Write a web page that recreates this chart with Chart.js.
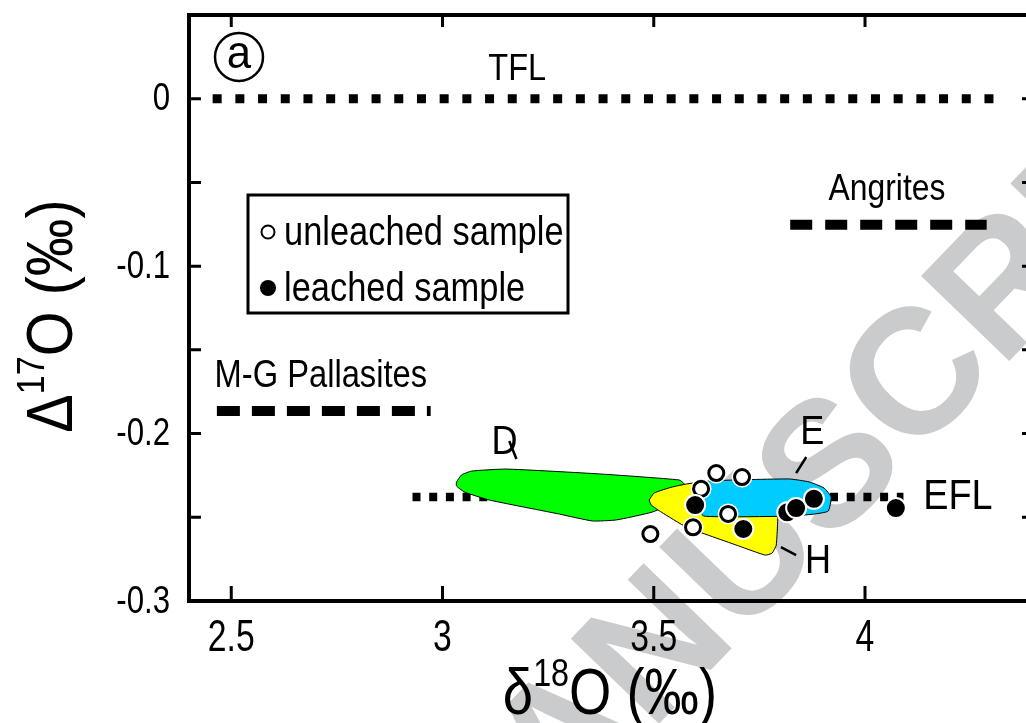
<!DOCTYPE html>
<html>
<head>
<meta charset="utf-8">
<script src="https://cdn.jsdelivr.net/npm/chart.js@4.4.0/dist/chart.umd.min.js"></script>
<style>
  html, body { margin: 0; padding: 0; background: #fff; overflow: hidden; }
</style>
</head>
<body>
<canvas id="myChart" width="1046" height="723"></canvas>
<script>
// axis ticks
var xTicks = [2.5, 3, 3.5, 4];
var xTickLabels = ['2.5', '3', '3.5', '4'];
var yTicks = [0, -0.05, -0.1, -0.15, -0.2, -0.25, -0.3];
var yTickLabels = ['0', '', '-0.1', '', '-0.2', '', '-0.3'];

// samples
var unleachedX = [3.492, 3.648, 3.709, 3.612, 3.676, 3.593];
var unleachedY = [-0.260, -0.2236, -0.226, -0.233, -0.248, -0.256];
var leachedX = [3.598, 3.712, 3.816, 3.837, 3.879, 4.073];
var leachedY = [-0.2427, -0.257, -0.247, -0.2445, -0.239, -0.2445];

// fields (outlines)
var fieldDX = [3.033, 3.045, 3.069, 3.151, 3.371, 3.560, 3.572, 3.560, 3.496, 3.411, 3.355, 3.277, 3.111, 3.052, 3.033, 3.033];
var fieldDY = [-0.229, -0.2247, -0.2224, -0.2212, -0.2241, -0.2277, -0.2301, -0.2397, -0.2469, -0.2516, -0.2522, -0.2481, -0.2397, -0.2349, -0.2313, -0.229];
var fieldHX = [3.489, 3.501, 3.544, 3.596, 3.749, 3.792, 3.790, 3.780, 3.764, 3.702, 3.577, 3.518, 3.494, 3.489];
var fieldHY = [-0.2397, -0.2355, -0.2319, -0.2295, -0.2337, -0.2427, -0.2666, -0.2714, -0.2726, -0.2672, -0.2558, -0.2469, -0.2427, -0.2397];
var fieldEX = [3.600, 3.631, 3.820, 3.868, 3.903, 3.920, 3.913, 3.879, 3.820, 3.619, 3.600, 3.600];
var fieldEY = [-0.2307, -0.2283, -0.2271, -0.2289, -0.2325, -0.2379, -0.2463, -0.2481, -0.2493, -0.2493, -0.2427, -0.2307];

// reference lines
var tflX = [2.456, 4.312], tflY = [0, 0];
var eflX = [2.929, 4.091], eflY = [-0.2379, -0.2379];
var angritesX = [3.823, 4.288], angritesY = [-0.0753, -0.0753];
var pallasitesX = [2.466, 2.972], pallasitesY = [-0.1865, -0.1865];

var FONT = '"Liberation Sans", Arial, sans-serif';
var ctx = document.getElementById('myChart').getContext('2d');

function pts(xs, ys) {
  return xs.map(function (x, i) { return { x: x, y: ys[i] }; });
}

function refLine(label, xs, ys, width, dash, order) {
  return {
    label: label, data: pts(xs, ys), showLine: true, fill: false,
    borderColor: '#000', borderWidth: width, borderDash: dash, borderCapStyle: 'butt',
    pointRadius: 0, order: order
  };
}

function field(label, xs, ys, color, order) {
  return {
    label: label, data: pts(xs, ys), showLine: true, fill: 'shape',
    backgroundColor: color, borderColor: '#000', borderWidth: 1,
    pointRadius: 0, tension: 0.15, order: order
  };
}

// condensed text (the original uses a narrow Helvetica)
function narrowText(c, txt, x, y, size, align, sx) {
  c.save();
  c.font = size + 'px ' + FONT;
  var w = c.measureText(txt).width * sx;
  var left = align === 'center' ? x - w / 2 : (align === 'right' ? x - w : x);
  c.translate(left, y);
  c.scale(sx, 1);
  c.textAlign = 'left';
  c.fillText(txt, 0, 0);
  c.restore();
  return w;
}

var decor = {
  id: 'decor',
  beforeDraw: function (chart) {
    // journal watermark
    var c = chart.ctx;
    c.save();
    c.fillStyle = '#cacbcc';
    c.font = 'bold 178px ' + FONT;
    var pre = c.measureText('ACCEPTED MA').width + c.measureText('N').width / 2;
    var ang = -46 * Math.PI / 180;
    c.translate(660 - pre * Math.cos(ang), 652 - pre * Math.sin(ang));
    c.rotate(ang);
    c.textBaseline = 'middle';
    c.fillText('ACCEPTED MANUSCRIPT', 0, 0);
    c.restore();
  },
  afterDraw: function (chart) {
    var c = chart.ctx, a = chart.chartArea;
    var xs = chart.scales.x, ys = chart.scales.y;
    function px(v) { return xs.getPixelForValue(v); }
    function py(v) { return ys.getPixelForValue(v); }
    c.save();
    c.strokeStyle = '#000';
    c.fillStyle = '#000';
    c.lineWidth = 4;
    c.strokeRect(a.left, a.top, a.right - a.left, a.bottom - a.top);

    // inward ticks
    c.lineWidth = 3;
    c.beginPath();
    xs.ticks.forEach(function (t) {
      var x = px(t.value);
      c.moveTo(x, a.bottom); c.lineTo(x, a.bottom - 15);
      c.moveTo(x, a.top); c.lineTo(x, a.top + 12);
    });
    ys.ticks.forEach(function (t) {
      var y = py(t.value);
      c.moveTo(a.left, y); c.lineTo(a.left + 12, y);
      c.moveTo(a.right, y); c.lineTo(a.right - 12, y);
    });
    c.stroke();

    // tick labels
    c.textBaseline = 'middle';
    xs.ticks.forEach(function (t, i) {
      narrowText(c, xTickLabels[i], px(t.value), a.bottom + 38, 45, 'center', 0.75);
    });
    ys.ticks.forEach(function (t, i) {
      if (yTickLabels[i]) narrowText(c, yTickLabels[i], a.left - 19, py(t.value) + 1, 39, 'right', 0.8);
    });

    // annotations
    narrowText(c, 'TFL', px(3.177), py(0.0173), 37, 'center', 0.88);
    narrowText(c, 'Angrites', px(4.052), py(-0.0544), 37, 'center', 0.86);
    narrowText(c, 'M-G Pallasites', px(2.712), py(-0.1662), 38, 'center', 0.86);
    narrowText(c, 'D', px(3.147), py(-0.2056), 41, 'center', 0.88);
    narrowText(c, 'E', px(3.875), py(-0.1996), 41, 'center', 0.88);
    narrowText(c, 'H', px(3.889), py(-0.2767), 41, 'center', 0.88);
    narrowText(c, 'EFL', px(4.220), py(-0.2379), 43, 'center', 0.88);

    // leaders
    c.lineWidth = 2.5;
    c.beginPath();
    c.moveTo(px(3.158), py(-0.2044)); c.lineTo(px(3.175), py(-0.2152));
    c.moveTo(px(3.861), py(-0.214)); c.lineTo(px(3.837), py(-0.2236));
    c.moveTo(px(3.801), py(-0.2678)); c.lineTo(px(3.837), py(-0.2726));
    c.stroke();

    // panel mark
    c.lineWidth = 2.5;
    c.beginPath();
    c.arc(239, 57, 24, 0, Math.PI * 2);
    c.stroke();
    narrowText(c, 'a', 239, 55, 46, 'center', 0.95);

    // legend
    c.lineWidth = 3;
    c.strokeRect(248, 195, 320, 118);
    c.beginPath();
    c.arc(268, 232, 6.5, 0, Math.PI * 2);
    c.fillStyle = '#fff'; c.fill();
    c.lineWidth = 2; c.stroke();
    c.beginPath();
    c.arc(268, 288, 8, 0, Math.PI * 2);
    c.fillStyle = '#000'; c.fill();
    c.textBaseline = 'alphabetic';
    narrowText(c, 'unleached sample', 284, 245, 41, 'left', 0.84);
    narrowText(c, 'leached sample', 284, 301, 41, 'left', 0.84);

    // x title
    var sx = 0.85;
    c.font = '64px ' + FONT;
    var w1 = c.measureText('\u03b4').width * sx;
    var w3 = c.measureText('O (\u2030)').width * sx;
    c.font = '38px ' + FONT;
    var w2 = c.measureText('18').width * sx;
    var x0 = 610 - (w1 + w2 + w3) / 2, base = 714;
    narrowText(c, '\u03b4', x0, base, 64, 'left', sx);
    narrowText(c, '18', x0 + w1, base - 28, 38, 'left', sx);
    narrowText(c, 'O (\u2030)', x0 + w1 + w2, base, 64, 'left', sx);

    // y title
    sx = 0.9;
    c.translate(72, 316);
    c.rotate(-Math.PI / 2);
    c.font = '64px ' + FONT;
    var v1 = c.measureText('\u0394').width * sx;
    var v3 = c.measureText('O (\u2030)').width * sx;
    c.font = '38px ' + FONT;
    var v2 = c.measureText('17').width * sx;
    var s0 = -(v1 + v2 + v3) / 2;
    narrowText(c, '\u0394', s0, 0, 64, 'left', sx);
    narrowText(c, '17', s0 + v1, -28, 38, 'left', sx);
    narrowText(c, 'O (\u2030)', s0 + v1 + v2, 0, 64, 'left', sx);
    c.restore();
  }
};

var myChart = new Chart(ctx, {
  type: 'scatter',
  data: {
    datasets: [
      { label: 'leached sample', data: pts(leachedX, leachedY), pointRadius: 10, backgroundColor: '#000', borderColor: '#fff', borderWidth: 2, order: 0 },
      { label: 'unleached sample', data: pts(unleachedX, unleachedY), pointRadius: 7.5, backgroundColor: '#fff', borderColor: '#000', borderWidth: 3, order: 1 },
      { label: 'halo', data: pts(unleachedX, unleachedY), pointRadius: 10.5, backgroundColor: '#fff', borderWidth: 0, order: 2 },
      field('E', fieldEX, fieldEY, '#00ccff', 3),
      field('H', fieldHX, fieldHY, '#ffff00', 4),
      field('D', fieldDX, fieldDY, '#00ff00', 5),
      refLine('EFL', eflX, eflY, 8.5, [8, 8.7], 6),
      refLine('TFL', tflX, tflY, 9, [9, 13.7], 6),
      refLine('Angrites', angritesX, angritesY, 10, [22, 13], 6),
      refLine('M-G Pallasites', pallasitesX, pallasitesY, 10, [23, 12], 6)
    ]
  },
  options: {
    responsive: false,
    animation: false,
    layout: { padding: { left: 0, top: 15, right: 12, bottom: 0 } },
    plugins: { legend: { display: false }, tooltip: { enabled: false } },
    scales: {
      x: {
        type: 'linear', min: 2.4, max: 4.4,
        afterBuildTicks: function (s) { s.ticks = xTicks.map(function (v) { return { value: v }; }); },
        afterFit: function (s) { s.height = 122; s.paddingLeft = 0; s.paddingRight = 0; },
        ticks: { display: false },
        grid: { display: false, drawTicks: false },
        border: { display: false }
      },
      y: {
        type: 'linear', min: -0.3, max: 0.05,
        afterBuildTicks: function (s) { s.ticks = yTicks.map(function (v) { return { value: v }; }); },
        afterFit: function (s) { s.width = 189; s.paddingTop = 0; s.paddingBottom = 0; },
        ticks: { display: false },
        grid: { display: false, drawTicks: false },
        border: { display: false }
      }
    }
  },
  plugins: [decor]
});
</script>
</body>
</html>
